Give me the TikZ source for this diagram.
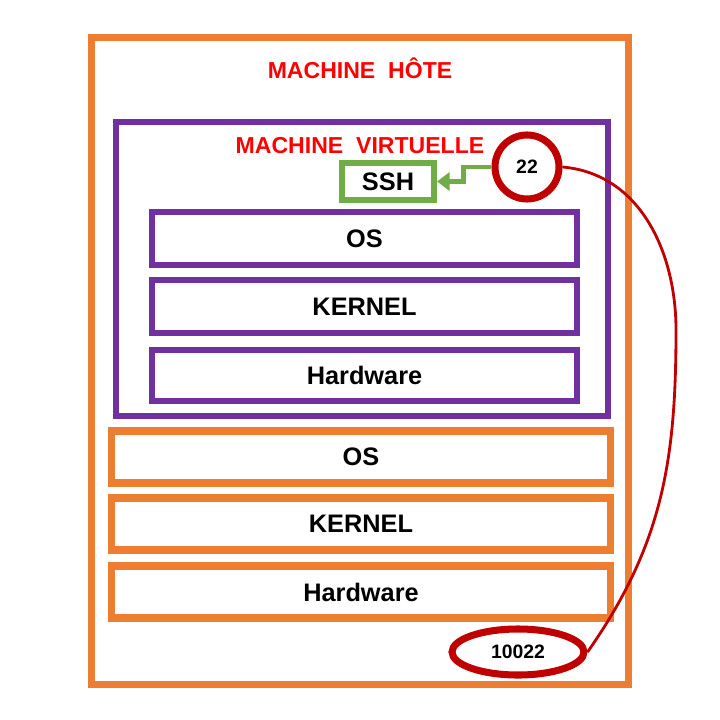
\documentclass[tikz,border=0pt]{standalone}
\usepackage{fontspec}
\setmainfont{Liberation Sans}
\usetikzlibrary{arrows.meta}
\usetikzlibrary{shapes.geometric}
\definecolor{hostorange}{HTML}{ED7D31}
\definecolor{vmpurple}{HTML}{7030A0}
\definecolor{sshgreen}{HTML}{70AD47}
\definecolor{portred}{HTML}{C00000}
\begin{document}
\begin{tikzpicture}[x=0.025cm, y=-0.025cm,
		hostbox/.style={draw=hostorange, line width=5pt, rectangle, minimum width=12.45cm, minimum height=1.3cm, font=\fontsize{18}{21}\selectfont\bfseries},
		vmbox/.style={draw=vmpurple, line width=4.3pt, rectangle, minimum width=10.625cm, minimum height=1.325cm, font=\fontsize{18}{21}\selectfont\bfseries},
		title/.style={text=red, font=\fontsize{16.4}{19}\selectfont\bfseries},
		port/.style={draw=portred, line width=5pt, inner sep=0pt, font=\fontsize{13.8}{16}\selectfont\bfseries}]
				\useasboundingbox (0,0) rectangle (720,720);
				
				% Draw the host machine
				\node[draw=hostorange, line width=5pt, rectangle, minimum width=13.4cm, minimum height=16.15cm] (host) at (360,361) {};
				\node[title] (hosttitle) at (360,68) {MACHINE\ \ HÔTE};
				
				% Draw the virtual machine
				\node[draw=vmpurple, line width=4.3pt, rectangle, minimum width=12.3cm, minimum height=7.35cm] (vm) at (362,269) {};
				\node[title] (vmtitle) at (360,146) {MACHINE\ \ VIRTUELLE};
				\node[draw=sshgreen, line width=4.3pt, rectangle, minimum width=2.3cm, minimum height=0.925cm, font=\fontsize{18}{21}\selectfont\bfseries] (ssh) at (388,181.5) {SSH};
				\node[port, circle, minimum size=1.6cm] (port22) at (527,167) {22};
				
				% Draw the layers
				\node[vmbox] (vmos) at (364.5,238.5) {OS};
				\node[vmbox] (vmkernel) at (364.5,306.5) {KERNEL};
				\node[vmbox, minimum height=1.275cm] (vmhw) at (364.5,375.5) {Hardware};
				\node[hostbox] (hostos) at (361,457) {OS};
				\node[hostbox] (hostkernel) at (361,524) {KERNEL};
				\node[hostbox] (hosthw) at (361,592) {Hardware};
				\node[port, ellipse, minimum width=3.3cm, minimum height=1.15cm] (port10022) at (518,652) {10022};
				
				% Draw the port forwarding
				\draw[sshgreen, line width=3.5pt, -{Triangle[length=9pt, width=13pt]}] (port22.west) -- ++(-28,0) |- (ssh.east);
				\coordinate (bend) at (676,330);
				\draw[portred, line width=2pt] (port22.east) to[out=-5, in=90] (bend) to[out=-90, in=55] (port10022.east);
			\end{tikzpicture}
\end{document}
